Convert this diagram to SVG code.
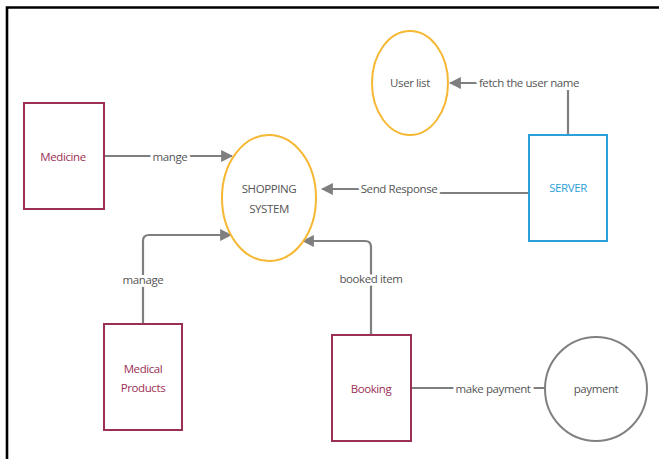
<svg xmlns="http://www.w3.org/2000/svg" width="659" height="459" viewBox="0 0 659 459">
<style>
text{font-family:"Open Sans","Noto Sans","Liberation Sans",sans-serif;font-size:11.5px;letter-spacing:-0.4px;text-anchor:middle;dominant-baseline:central}
.ent rect{fill:#fff;stroke:#9c2f55;stroke-width:2}
.ent text{fill:#9c2f55}
.proc ellipse{fill:#fff;stroke:#f6b732;stroke-width:2}
.proc text,.lbl{fill:#555}
.conn path{fill:none;stroke:#7f7f7f;stroke-width:2.2}
.lbl{stroke:#fff;stroke-width:6;paint-order:stroke;stroke-linejoin:round}
</style>
<defs>
<marker id="ah" viewBox="0 0 10 10" refX="9" refY="5" markerWidth="5.5" markerHeight="5.5" markerUnits="strokeWidth" orient="auto">
<path d="M0,0 L10,5 L0,10 z" fill="#7f7f7f"/>
</marker>
</defs>
<rect width="659" height="459" fill="#fff"/>
<path d="M7,459 V7.5 H659" fill="none" stroke="#000" stroke-width="2.6"/>
<g id="connectors" class="conn">
<path d="M568,135 V83 H450" marker-end="url(#ah)"/>
<path d="M104,156 H232" marker-end="url(#ah)"/>
<path d="M529,193 H400 V189 H322" marker-end="url(#ah)"/>
<path d="M143,324 V241 Q143,235 149,235 H231" marker-end="url(#ah)"/>
<path d="M371,335 V247 Q371,241 365,241 H303" marker-end="url(#ah)"/>
<path d="M411,388 H545"/>
<text class="lbl" x="529" y="82">fetch the user name</text>
<text class="lbl" x="170" y="156">mange</text>
<text class="lbl" x="399" y="188">Send Response</text>
<text class="lbl" x="143" y="279">manage</text>
<text class="lbl" x="371" y="278">booked item</text>
<text class="lbl" x="493" y="388">make payment</text>
</g>
<g id="userlist" class="proc">
<ellipse cx="410" cy="83" rx="38" ry="52"/>
<text x="410" y="82">User list</text>
</g>
<g id="medicine" class="ent">
<rect x="24" y="103" width="80" height="106"/>
<text x="63" y="156">Medicine</text>
</g>
<g id="shopping" class="proc">
<ellipse cx="269" cy="198" rx="47" ry="63"/>
<text x="269" y="188">SHOPPING</text>
<text x="269" y="208">SYSTEM</text>
</g>
<g id="server">
<rect x="529" y="135" width="78" height="106" fill="#fff" stroke="#2c9fd8" stroke-width="2"/>
<text x="568" y="187" fill="#2c9fd8">SERVER</text>
</g>
<g id="medical" class="ent">
<rect x="104" y="324" width="78" height="106"/>
<text x="143" y="368">Medical</text>
<text x="143" y="387">Products</text>
</g>
<g id="booking" class="ent">
<rect x="332" y="335" width="79" height="106"/>
<text x="371" y="388">Booking</text>
</g>
<g id="payment">
<ellipse cx="596" cy="389" rx="51" ry="52" fill="#fff" stroke="#808080" stroke-width="2"/>
<text x="596" y="388" fill="#555">payment</text>
</g>
</svg>
